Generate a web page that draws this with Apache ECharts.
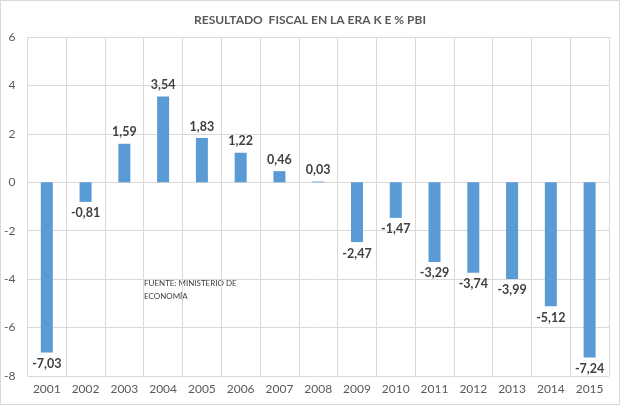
<!DOCTYPE html>
<html lang="es">
<head>
    <meta charset="UTF-8">
    <title>Resultado fiscal</title>
    <script type="text/javascript" src="https://cdn.jsdelivr.net/npm/echarts@6/dist/echarts.min.js"></script>
    <style>
        html, body { margin: 0; padding: 0; background: #fff; }
        #chart { width: 620px; height: 405px; box-sizing: border-box; border: 1px solid #d9d9d9; }
    </style>
</head>
<body>
    <div id="chart"></div>
    <script>
        // datos
        var years = ['2001', '2002', '2003', '2004', '2005', '2006', '2007', '2008',
                     '2009', '2010', '2011', '2012', '2013', '2014', '2015'];
        var resultado = [-7.03, -0.81, 1.59, 3.54, 1.83, 1.22, 0.46, 0.03,
                         -2.47, -1.47, -3.29, -3.74, -3.99, -5.12, -7.24];
        var yTicks = [-8, -6, -4, -2, 0, 2, 4, 6];

        var chart = echarts.init(document.getElementById('chart'));
        var fontFam = 'Lato, "Open Sans", sans-serif';

        var barData = [];
        for (var i = 0; i < resultado.length; i++) {
            barData.push({
                value: resultado[i],
                label: { position: resultado[i] >= 0 ? 'top' : 'bottom' }
            });
        }

        var option = {
            animation: false,
            title: {
                text: 'RESULTADO  FISCAL EN LA ERA K E % PBI',
                left: 'center',
                top: 8,
                textStyle: { fontFamily: fontFam, fontSize: 12, fontWeight: 'bold', color: '#595959' }
            },
            grid: { left: 26, right: 10, top: 36, bottom: 28 },
            xAxis: {
                type: 'category',
                data: years,
                axisLine: { lineStyle: { color: '#d9d9d9' } },
                axisTick: { show: false },
                splitLine: { show: true, lineStyle: { color: '#d9d9d9' } },
                axisLabel: {
                    interval: 0, margin: 7,
                    fontFamily: fontFam, fontSize: 12, color: '#595959'
                }
            },
            yAxis: {
                type: 'value',
                min: yTicks[0],
                max: yTicks[yTicks.length - 1],
                interval: 2,
                axisLine: { show: false },
                axisTick: { show: false },
                splitLine: { lineStyle: { color: '#d9d9d9' } },
                axisLabel: { margin: 12, fontFamily: fontFam, fontSize: 12, color: '#595959' }
            },
            series: [{
                type: 'bar',
                data: barData,
                barWidth: 12,
                itemStyle: { color: '#5b9bd5' },
                label: {
                    show: true,
                    distance: 5,
                    fontFamily: fontFam,
                    fontSize: 12.5,
                    fontWeight: 'bold',
                    color: '#404040',
                    formatter: function (p) {
                        return p.value.toFixed(2).replace('.', ',');
                    }
                }
            }],
            graphic: [{
                type: 'text',
                left: 143,
                top: 276,
                style: {
                    text: 'FUENTE: MINISTERIO DE\nECONOMÍA',
                    fontFamily: fontFam,
                    fontSize: 8,
                    lineHeight: 13,
                    fill: '#404040'
                }
            }]
        };
        chart.setOption(option);
    </script>
</body>
</html>
